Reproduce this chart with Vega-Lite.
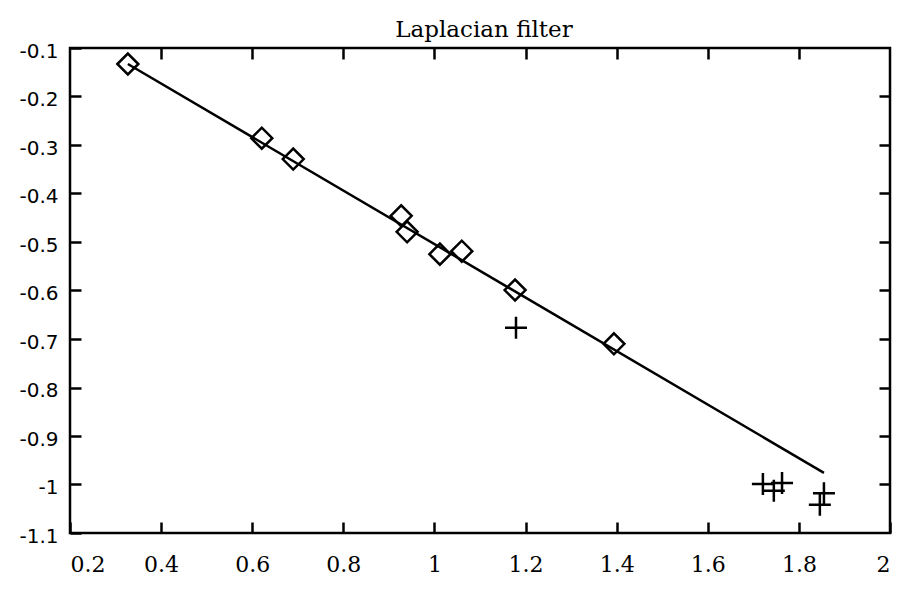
{
  "$schema": "https://vega.github.io/schema/vega-lite/v6.json",
  "width": 820,
  "height": 485,
  "autosize": "none",
  "padding": {"left": 70, "top": 48, "right": 9, "bottom": 56},
  "background": "white",
  "title": {"text": "Laplacian filter", "font": "DejaVu Serif", "fontSize": 23, "fontWeight": "normal", "color": "black", "offset": 6, "dy": 7, "anchor": "middle", "dx": 4},
  "config": {
    "view": {"stroke": "black", "strokeWidth": 2.5},
    "axis": {"grid": false, "domain": false, "ticks": true, "tickSize": -11, "tickWidth": 2.5, "tickColor": "black", "labelColor": "black", "title": null}
  },
  "datasets": {
    "pts": [
      {"x": 0.327, "y": -0.133, "kind": "diamond"},
      {"x": 0.621, "y": -0.286, "kind": "diamond"},
      {"x": 0.690, "y": -0.329, "kind": "diamond"},
      {"x": 0.927, "y": -0.446, "kind": "diamond"},
      {"x": 0.940, "y": -0.479, "kind": "diamond"},
      {"x": 1.012, "y": -0.525, "kind": "diamond"},
      {"x": 1.060, "y": -0.519, "kind": "diamond"},
      {"x": 1.177, "y": -0.599, "kind": "diamond"},
      {"x": 1.394, "y": -0.710, "kind": "diamond"},
      {"x": 1.179, "y": -0.677, "kind": "plus"},
      {"x": 1.721, "y": -0.999, "kind": "plus"},
      {"x": 1.745, "y": -1.013, "kind": "plus"},
      {"x": 1.763, "y": -0.997, "kind": "plus"},
      {"x": 1.855, "y": -1.018, "kind": "plus"},
      {"x": 1.846, "y": -1.042, "kind": "plus"}
    ],
    "fit": [
      {"x": 0.327, "y": -0.133},
      {"x": 1.855, "y": -0.976}
    ]
  },
  "layer": [
    {
      "data": {"name": "fit"},
      "mark": {"type": "line", "color": "black", "strokeWidth": 2.5},
      "encoding": {
        "x": {"field": "x", "type": "quantitative", "scale": {"domain": [0.2, 2], "nice": false, "zero": false},
              "axis": {"orient": "bottom", "values": [0.2, 0.4, 0.6, 0.8, 1, 1.2, 1.4, 1.6, 1.8, 2], "labelExpr": "'' + datum.value", "labelPadding": 32, "labelFont": "DejaVu Serif", "labelFontSize": 22}},
        "y": {"field": "y", "type": "quantitative", "scale": {"domain": [-1.1, -0.1], "nice": false, "zero": false},
              "axis": {"orient": "left", "values": [-0.1, -0.2, -0.3, -0.4, -0.5, -0.6, -0.7, -0.8, -0.9, -1, -1.1], "labelExpr": "'' + datum.value", "labelPadding": 23, "labelOffset": 3, "labelFont": "DejaVu Sans", "labelFontSize": 20}}
      }
    },
    {
      "data": {"name": "pts"},
      "mark": {"type": "point", "filled": false, "color": "black", "strokeWidth": 2.5, "opacity": 1},
      "encoding": {
        "x": {"field": "x", "type": "quantitative", "scale": {"domain": [0.2, 2], "nice": false, "zero": false},
              "axis": {"orient": "top", "values": [0.4, 0.6, 0.8, 1, 1.2, 1.4, 1.6, 1.8], "labels": false}},
        "y": {"field": "y", "type": "quantitative", "scale": {"domain": [-1.1, -0.1], "nice": false, "zero": false},
              "axis": {"orient": "right", "values": [-0.2, -0.3, -0.4, -0.5, -0.6, -0.7, -0.8, -0.9, -1], "labels": false}},
        "shape": {"field": "kind", "type": "nominal", "scale": {"domain": ["diamond", "plus"], "range": ["diamond", "M-1,0L1,0M0,-1L0,1"]}, "legend": null},
        "size": {"field": "kind", "type": "nominal", "scale": {"domain": ["diamond", "plus"], "range": [440, 484]}, "legend": null}
      }
    }
  ],
  "resolve": {"axis": {"x": "independent", "y": "independent"}}
}
